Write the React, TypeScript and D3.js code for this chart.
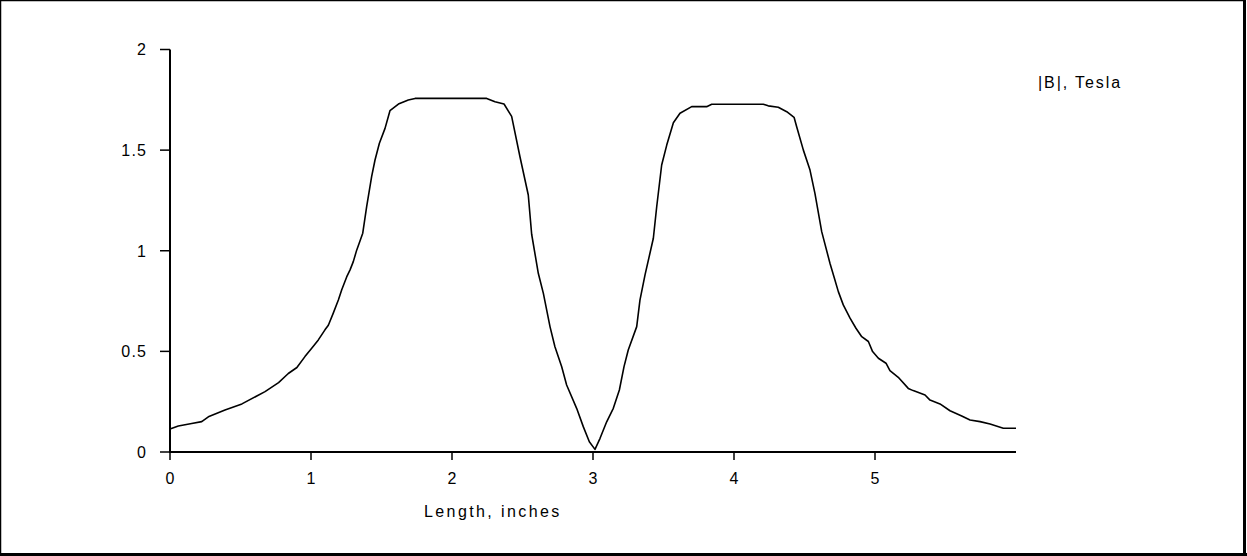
import React from "react";
import * as d3 from "d3";

const lengthInches = [
  0, 0.059, 0.154, 0.225, 0.272, 0.39, 0.51, 0.674, 0.77, 0.839, 0.9, 0.957, 1.005, 1.052, 1.099, 1.123, 1.158,
  1.194, 1.218, 1.253, 1.277, 1.3, 1.324, 1.367, 1.395, 1.43, 1.454, 1.485, 1.525, 1.56,
  1.62, 1.69, 1.738, 2.246, 2.305, 2.369, 2.423, 2.482, 2.541, 2.565, 2.612, 2.648, 2.695, 2.73, 2.778, 2.813,
  2.884, 2.931, 2.974, 3.014, 3.05, 3.097, 3.144, 3.187, 3.22, 3.25, 3.31, 3.333, 3.369, 3.428, 3.452, 3.487,
  3.523, 3.57, 3.617, 3.7, 3.806, 3.842, 4.208, 4.243, 4.314, 4.374, 4.426, 4.444, 4.492, 4.539, 4.574, 4.622,
  4.681, 4.709, 4.74, 4.775, 4.823, 4.865, 4.906, 4.953, 4.983, 5.024, 5.078, 5.106, 5.165, 5.236, 5.271, 5.355,
  5.39, 5.461, 5.532, 5.615, 5.674, 5.745, 5.816, 5.91, 6.0,
];
const fieldTesla = [
  0.114, 0.129, 0.142, 0.151, 0.175, 0.209, 0.239, 0.3, 0.345, 0.39, 0.42, 0.474, 0.515, 0.557, 0.607, 0.63, 0.69,
  0.755, 0.806, 0.87, 0.905, 0.946, 1.003, 1.087, 1.22, 1.368, 1.451, 1.534, 1.608, 1.696,
  1.729, 1.749, 1.757, 1.757, 1.74, 1.729, 1.668, 1.467, 1.277, 1.082, 0.888, 0.788, 0.623, 0.523, 0.424, 0.333,
  0.217, 0.126, 0.051, 0.013, 0.068, 0.15, 0.217, 0.308, 0.424, 0.507, 0.623, 0.755, 0.88, 1.062, 1.22, 1.426,
  1.525, 1.636, 1.683, 1.716, 1.716, 1.728, 1.728, 1.72, 1.713, 1.691, 1.663, 1.617, 1.5, 1.401, 1.285, 1.095,
  0.937, 0.871, 0.797, 0.731, 0.665, 0.615, 0.573, 0.549, 0.499, 0.466, 0.441, 0.404, 0.371, 0.316, 0.305, 0.283,
  0.258, 0.239, 0.205, 0.179, 0.159, 0.151, 0.139, 0.118, 0.118,
];
const xTicks = [0, 1, 2, 3, 4, 5];
const yTicks = [0, 0.5, 1, 1.5, 2];
const xTitle = "Length, inches";
const seriesName = "|B|, Tesla";

const W = 1247;
const H = 556;
const FONT = "'Liberation Sans', Arial, sans-serif";

export default function App() {
  const x = d3.scaleLinear().domain([0, 6]).range([170, 1016]);
  const y = d3.scaleLinear().domain([0, 2]).range([452, 49.5]);
  const pts: [number, number][] = lengthInches.map((v, i) => [v, fieldTesla[i]]);
  const line = d3
    .line<[number, number]>()
    .x((d) => x(d[0]))
    .y((d) => y(d[1]));

  return (
    <svg
      width={W}
      height={H}
      style={{ position: "absolute", left: 0, top: 0, background: "#fff" }}
      fontFamily={FONT}
    >
      <rect x={0} y={0} width={W} height={H} fill="#fff" />
      {/* frame */}
      <line x1={0} y1={0.5} x2={1246} y2={0.5} stroke="#000" strokeWidth={1.5} />
      <line x1={0.5} y1={0} x2={0.5} y2={556} stroke="#000" strokeWidth={1.5} />
      <line x1={1244.5} y1={0} x2={1244.5} y2={556} stroke="#000" strokeWidth={3} />
      <line x1={0} y1={554.5} x2={1247} y2={554.5} stroke="#000" strokeWidth={3} />

      {/* y axis */}
      <line x1={x(0)} y1={y(2)} x2={x(0)} y2={y(0)} stroke="#000" strokeWidth={2} />
      {yTicks.map((t) => (
        <g key={"y" + t}>
          <line x1={x(0) - 10} y1={y(t)} x2={x(0)} y2={y(t)} stroke="#000" strokeWidth={1.5} />
          <text
            x={147.2}
            y={y(t)}
            dy="0.36em"
            textAnchor="end"
            fontSize={16}
            letterSpacing={1.2}
            fill="#000"
          >
            {String(t)}
          </text>
        </g>
      ))}

      {/* x axis */}
      <line x1={x(0) - 1} y1={y(0)} x2={x(6)} y2={y(0)} stroke="#000" strokeWidth={2} />
      {xTicks.map((t) => (
        <g key={"x" + t}>
          <line x1={x(t)} y1={y(0)} x2={x(t)} y2={y(0) + 8} stroke="#000" strokeWidth={1.5} />
          <text x={x(t)} y={483.5} textAnchor="middle" fontSize={16} fill="#000">
            {String(t)}
          </text>
        </g>
      ))}

      <text x={424} y={517} fontSize={16} letterSpacing={2.4} fill="#000">
        {xTitle}
      </text>
      <text x={1038} y={87.5} fontSize={16} letterSpacing={1.9} fill="#000">
        {seriesName}
      </text>

      <path d={line(pts) || ""} fill="none" stroke="#000" strokeWidth={1.6} strokeLinejoin="round" />
    </svg>
  );
}
